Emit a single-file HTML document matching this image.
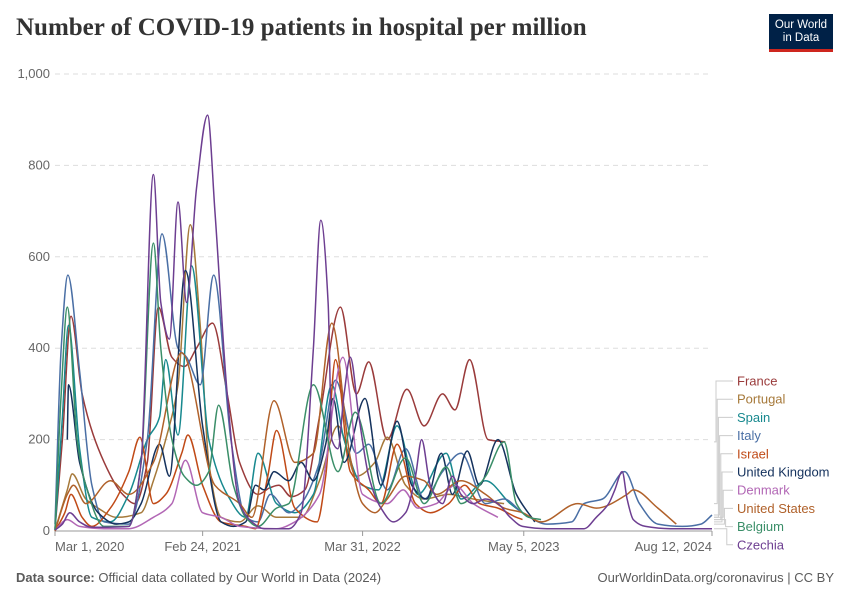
<!DOCTYPE html>
<html><head><meta charset="utf-8"><style>
body{margin:0;background:#fff;font-family:"Liberation Sans",sans-serif;}
#wrap{position:relative;width:850px;height:600px;overflow:hidden;}
</style></head><body>
<div id="wrap">
<div style="position:absolute;left:16px;top:14px;font-family:'Liberation Serif',serif;font-size:25px;font-weight:bold;color:#333;">Number of COVID-19 patients in hospital per million</div>
<div style="position:absolute;left:769px;top:14px;width:64px;height:38px;background:#002147;border-bottom:3px solid #ce261e;color:#fff;font-size:11.5px;line-height:13px;text-align:center;box-sizing:border-box;padding-top:5px;">Our World<br>in Data</div>
<svg id="chart" width="850" height="600" style="position:absolute;left:0;top:0"></svg>
<div style="position:absolute;left:16px;top:570px;font-size:13px;color:#5b5b5b;"><b>Data source:</b> Official data collated by Our World in Data (2024)</div>
<div style="position:absolute;right:16px;top:570px;font-size:13px;color:#5b5b5b;">OurWorldinData.org/coronavirus | CC BY</div>
</div>
<script>
// months since Mar 1 2020, value per million
const france=[[0,5],[0.6,200],[1.3,470],[2.2,300],[4,150],[5.5,80],[6.5,60],[7.5,150],[8.4,490],[9.5,380],[10.5,360],[11.5,400],[12.8,455],[14,300],[15,150],[16.5,80],[17.5,95],[18.2,100],[19.2,75],[20.3,90],[21.5,250],[23.2,490],[24.5,300],[25.5,370],[27,200],[28.6,310],[30,230],[31.5,300],[32.5,265],[33.7,375],[35.2,200],[36.6,195]];
const portugal=[[0,2],[1,90],[1.4,125],[2.5,70],[3.5,50],[5,30],[7,40],[8,110],[9,200],[10,320],[11,670],[11.8,450],[12.5,150],[13.5,30],[15,20],[16.5,55],[18,30],[20,30],[21.5,110],[23,230],[24.5,120],[26,150],[27,205],[28.5,100],[30,70],[32,80],[34,70],[36.5,60]];
const spain=[[0,2],[0.6,250],[1.1,450],[2,180],[3,30],[4.5,20],[6,80],[7.5,200],[8.5,250],[9,375],[10,210],[11.1,580],[12.5,200],[14,80],[15.5,30],[16.5,170],[18,60],[19.5,40],[21,80],[22.5,320],[23.5,200],[25,100],[26.3,90],[27.8,230],[29.5,80],[31.8,170],[33,70],[35,110],[37,60],[38.5,30]];
const italy=[[0,15],[0.5,400],[1.05,560],[2,350],[3,100],[4,20],[6,15],[7.5,200],[8.7,650],[10,400],[10.7,380],[11.8,320],[12.9,560],[14.3,200],[15.5,30],[16.5,20],[17.5,80],[19,40],[20,60],[21.5,150],[22.8,330],[24.5,170],[25.5,190],[27,90],[28.5,180],[30,70],[31.5,130],[33,170],[35,60],[36.5,70],[38,40],[40,15],[42,20],[43,60],[44.5,70],[46.3,130],[47.5,60],[49,15],[51,10],[52.5,15],[53.4,35]];
const israel=[[0,0],[0.8,40],[1.3,80],[2.2,30],[3,10],[4.5,50],[6,130],[6.9,205],[8,60],[9,80],[10.3,170],[10.8,210],[12,100],[13.5,20],[15.5,10],[16.3,5],[17.3,120],[18,220],[19.5,50],[21.3,20],[22,120],[22.8,375],[24,130],[25.5,90],[26.5,60],[27.8,190],[29.3,60],[30.5,40],[32,60],[33.3,100],[34.5,60],[36,50],[37.5,30],[38,25]];
const uk=[[1.0,200],[1.1,320],[2,150],[3.5,40],[5,15],[6,20],[7,60],[8.5,190],[9.3,120],[10.6,570],[12,230],[13.5,20],[14.5,10],[15.5,20],[16.3,100],[17,90],[17.8,130],[19,110],[20,150],[21,110],[22,190],[22.6,290],[23.5,150],[25.2,290],[26.5,100],[27.8,240],[29,100],[30.2,70],[31.4,170],[32.3,80],[33.5,175],[34.5,100],[36,200],[37.5,80],[39,20]];
const denmark=[[0,2],[1,25],[2,10],[4,5],[6,5],[8,30],[9.5,60],[10.6,155],[12,40],[13.5,30],[15,10],[18,5],[19.5,20],[21.5,80],[23.4,380],[25,80],[27,60],[28.3,90],[29.5,50],[31,60],[32.5,100],[34,60],[36,30]];
const unitedStates=[[0,0],[1,80],[1.5,100],[2.5,60],[4.5,110],[6,80],[8,150],[10.3,390],[13,100],[15,60],[16,30],[17.8,285],[19.5,150],[21,170],[22.5,455],[24,160],[25,60],[26,40],[27,70],[28.5,120],[30,110],[31,80],[33,110],[35,80],[36.5,50],[38,40],[39.5,20],[42.5,60],[44,50],[46.5,80],[47,90],[49,50],[50.5,15]];
const belgium=[[0,2],[0.5,300],[1,490],[1.8,200],[2.5,100],[4,10],[6,10],[7,150],[8,630],[8.6,400],[9.5,200],[10.5,120],[11.5,100],[12.5,130],[13.3,275],[14.5,100],[15.5,30],[16.5,10],[18,50],[19,60],[21,320],[23,130],[24.4,260],[26.5,60],[28.5,160],[30,60],[31.8,140],[33,60],[35,120],[36.5,195],[37.5,60],[38.5,30],[39.5,25]];
const czechia=[[0,2],[0.6,15],[1.2,40],[2,20],[3,8],[6,10],[7,150],[8,780],[8.6,500],[9.3,420],[10,720],[10.7,500],[11.5,750],[12.4,910],[13,700],[14,300],[15,60],[16,20],[17,5],[19,5],[20,40],[21,400],[21.6,680],[22.2,500],[22.5,200],[23,180],[23.5,300],[24,380],[24.7,250],[25.5,120],[26.5,50],[27.5,20],[28.5,40],[29.3,120],[29.8,200],[30.5,100],[31.5,60],[32.3,120],[33,80],[34,60],[35,70],[36,60],[37,30],[38,10],[40,5],[43,5],[44,30],[45,60],[45.5,90],[46.1,130],[46.5,70],[47,25],[48,10],[50,5],[53.4,5]];
const seriesNames=["France","Portugal","Spain","Italy","Israel","United Kingdom","Denmark","United States","Belgium","Czechia"];
const seriesColors=["#9a3b3b","#a6793a","#18898f","#4a6fa5","#c04a17","#15325d","#b267b5","#b0612a","#3a8e68","#6d3e91"];
const seriesData=[france,portugal,spain,italy,israel,uk,denmark,unitedStates,belgium,czechia];
const yTicks=[0,200,400,600,800,1000];
const yTickLabels=["0","200","400","600","800","1,000"];
const xTicks=[0,12,25,38.1,53.4];
const xTickLabels=["Mar 1, 2020","Feb 24, 2021","Mar 31, 2022","May 5, 2023","Aug 12, 2024"];

const svg=document.getElementById('chart');
const NS="http://www.w3.org/2000/svg";
const X0=55,X1=712,Y0=531,Y1=74;
const xs=m=>X0+(m/53.4)*(X1-X0);
const ys=v=>Y0-(v/1000)*(Y0-Y1);
function mk(t,a){const e=document.createElementNS(NS,t);for(const k in a)e.setAttribute(k,a[k]);svg.appendChild(e);return e;}
function monoPath(pts){
  const n=pts.length;if(n<2)return '';
  const dx=[],m=[],t=[];
  for(let i=0;i<n-1;i++){dx[i]=pts[i+1][0]-pts[i][0];m[i]=(pts[i+1][1]-pts[i][1])/dx[i];}
  t[0]=m[0];t[n-1]=m[n-2];
  for(let i=1;i<n-1;i++){t[i]=(m[i-1]*m[i]<=0)?0:(3*(dx[i-1]+dx[i]))/((2*dx[i]+dx[i-1])/m[i-1]+(dx[i]+2*dx[i-1])/m[i]);}
  let d='M'+pts[0][0].toFixed(1)+','+pts[0][1].toFixed(1);
  for(let i=0;i<n-1;i++){const h=dx[i]/3;
    d+=' C'+(pts[i][0]+h).toFixed(1)+','+(pts[i][1]+t[i]*h).toFixed(1)+' '+(pts[i+1][0]-h).toFixed(1)+','+(pts[i+1][1]-t[i+1]*h).toFixed(1)+' '+pts[i+1][0].toFixed(1)+','+pts[i+1][1].toFixed(1);}
  return d;
}
yTicks.forEach((v,i)=>{
  if(v>0){const g=mk('line',{x1:X0,x2:X1,y1:ys(v),y2:ys(v),stroke:'#ddd','stroke-dasharray':'5,4'});
  
  }
  const t=mk('text',{x:50,y:ys(v)+4,'text-anchor':'end','font-size':13,fill:'#666','font-family':'Liberation Sans'});
  t.textContent=yTickLabels[i];
  
  
});
const ax=mk('line',{x1:X0,x2:X1,y1:Y0,y2:Y0,stroke:'#999'});


xTicks.forEach((m,i)=>{
  const tk=mk('line',{x1:xs(m),x2:xs(m),y1:Y0,y2:Y0+5,stroke:'#999'});
  
  
  const anchor=i==0?'start':(i==xTicks.length-1?'end':'middle');
  const t=mk('text',{x:xs(m),y:551,'text-anchor':anchor,'font-size':13,fill:'#666','font-family':'Liberation Sans'});
  t.textContent=xTickLabels[i];
  
  
});
seriesData.forEach((d,i)=>{
  const p=mk('path',{d:monoPath(d.map(q=>[xs(q[0]),ys(q[1])])),fill:'none',stroke:seriesColors[i],'stroke-width':1.5,'stroke-linejoin':'round'});
  
  
});
seriesNames.forEach((n,i)=>{
  const ly=381+i*18.2;
  const d=seriesData[i],last=d[d.length-1];
  const ey=ys(last[1]);
  const ex=716+i*1.2;
  const c=mk('polyline',{points:`${X1+2},${ey} ${ex},${ey} ${ex},${ly} 733,${ly}`,fill:'none',stroke:'#ccc','stroke-width':1});
  
  
  const t=mk('text',{x:737,y:ly+4.5,'font-size':13,fill:seriesColors[i],'font-family':'Liberation Sans'});
  t.textContent=n;
  
  
});
</script>
</body></html>
